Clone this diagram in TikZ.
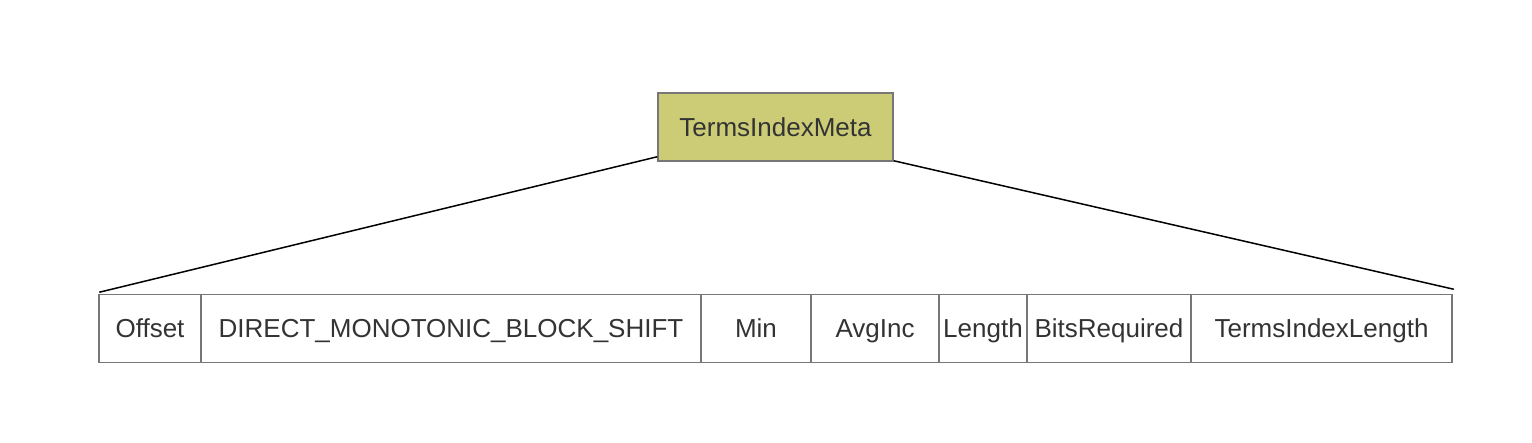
\documentclass[tikz,border=0pt]{standalone}
\usepackage{fontspec}
\setmainfont{Liberation Sans}
\usetikzlibrary{calc}
\definecolor{metafill}{HTML}{CCCC77}
\definecolor{edgegray}{HTML}{777777}
\definecolor{txt}{HTML}{333333}
\begin{document}
\begin{tikzpicture}[x=1pt,y=-1pt,
  cell/.style={draw=edgegray, line width=1.5pt, inner sep=0pt, text=txt, font=\fontsize{26}{30}\selectfont, text height=18.6pt, text depth=0pt},
  meta/.style={cell, fill=metafill},
  link/.style={draw=black, line width=1.5pt}]
\useasboundingbox (0,0) rectangle (1532,442);
\node[meta, minimum width=235pt, minimum height=68pt] (m) at (775.5,127) {TermsIndexMeta};
\foreach \nm/\a/\b/\t in {c1/99/201/Offset, c2/201/701/DIRECT\_MONOTONIC\_BLOCK\_SHIFT, c3/701/811/Min, c4/811/939/AvgInc, c5/939/1027/Length, c6/1027/1191/BitsRequired, c7/1191/1452/TermsIndexLength}{
  \node[cell, minimum width=\b pt-\a pt, minimum height=68pt] (\nm) at ({(\a+\b)/2},328.5) {\t};
}
\coordinate (ml) at ($(m.south west)+(0,-5)$);
\coordinate (mr) at ($(m.south east)+(0,-1)$);
\coordinate (tl) at ($(c1.north west)+(1,-1.5)$);
\coordinate (tr) at ($(c7.north east)+(1,-4.5)$);
\draw[link] (ml) -- (tl);
\draw[link] (mr) -- (tr);
\end{tikzpicture}
\end{document}
